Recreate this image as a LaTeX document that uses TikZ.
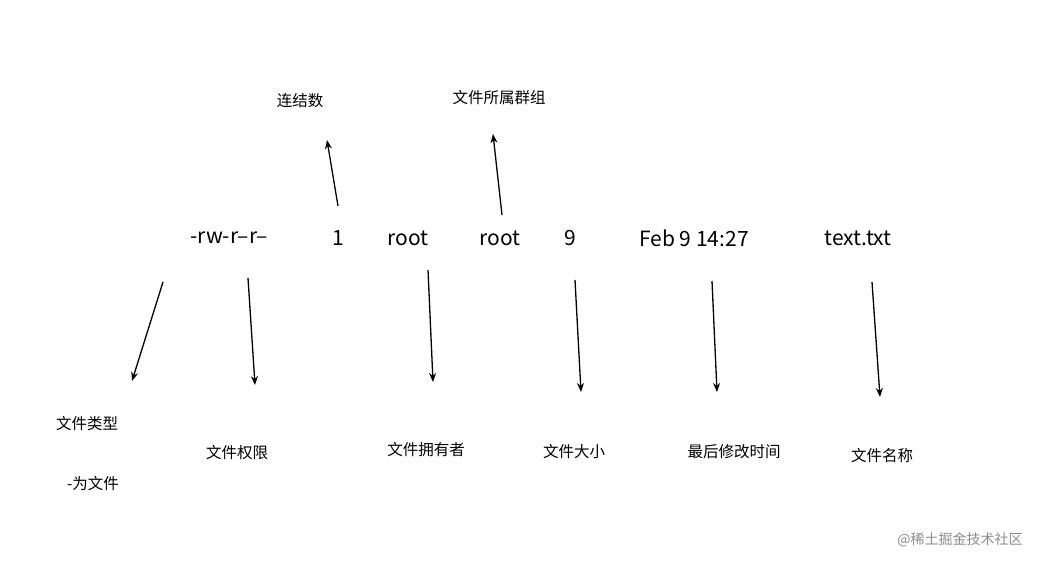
\documentclass[tikz,border=0pt]{standalone}
\usepackage{fontspec}
\setmainfont{Noto Sans CJK SC}
\usetikzlibrary{arrows.meta}
\begin{document}
\begin{tikzpicture}[x=1pt,y=-1pt,
  big/.style={font=\fontsize{21}{24}\selectfont,inner sep=0pt},
  lab/.style={font=\fontsize{15.5}{18}\selectfont,inner sep=0pt},
  arr/.style={line width=1.3pt,-{Stealth[length=9pt,width=7pt]}}]
\useasboundingbox (0,0) rectangle (1057,568);
\fill[white] (0,0) rectangle (1057,568);
\node[big] (perm) at (229,238) {-rw-r--r--};
\node[big] (one) at (338,238) {1};
\node[big] (own) at (408,238) {root};
\node[big] (grp) at (500,238) {root};
\node[big] (sz) at (570,238) {9};
\node[big] (tm) at (694,238) {Feb 9 14:27};
\node[big] (nm) at (858,238) {text.txt};
\coordinate (a1s) at (338,206); \coordinate (a1e) at (327,140);
\coordinate (a2s) at (502,215); \coordinate (a2e) at (493,134);
\coordinate (b1s) at (163,282); \coordinate (b1e) at (132,381);
\coordinate (b2s) at (248,278); \coordinate (b2e) at (255,385);
\coordinate (b3s) at (428,270); \coordinate (b3e) at (433,382);
\coordinate (b4s) at (575,280); \coordinate (b4e) at (581,392);
\coordinate (b5s) at (712,281); \coordinate (b5e) at (717,392);
\coordinate (b6s) at (872,282); \coordinate (b6e) at (880,397);
\foreach \n in {a1,a2,b1,b2,b3,b4,b5,b6} \draw[arr] (\n s) -- (\n e);
\node[lab] (l1) at (300,101) {连结数};
\node[lab] (l2) at (499,98) {文件所属群组};
\node[lab] (l3) at (87,424) {文件类型};
\node[lab] (l3b) at (93,484) {-为文件};
\node[lab] (l4) at (237,453) {文件权限};
\node[lab] (l5) at (426,450) {文件拥有者};
\node[lab] (l6) at (574,452) {文件大小};
\node[lab] (l7) at (734,452) {最后修改时间};
\node[lab] (l8) at (882,456) {文件名称};
\node[font=\fontsize{14}{16}\selectfont,text=black!45,inner sep=0pt] (wm) at (960,540) {@稀土掘金技术社区};
\end{tikzpicture}
\end{document}
